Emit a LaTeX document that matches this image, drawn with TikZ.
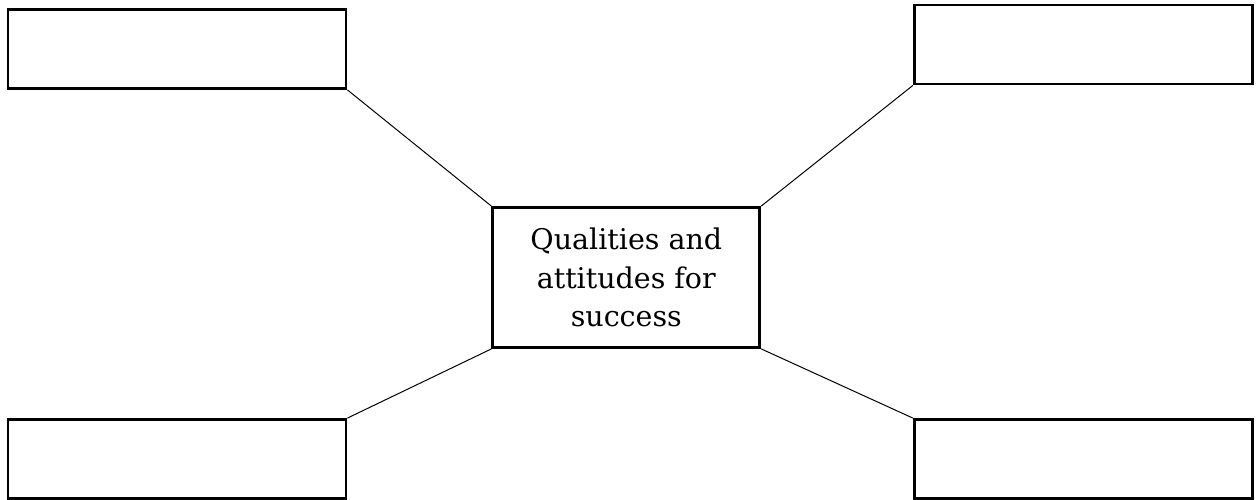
\documentclass[tikz,border=0pt]{standalone}
\usepackage{fontspec}
\setmainfont{DejaVu Serif}
\begin{document}
\begin{tikzpicture}[x=1pt,y=-1pt,
  emptybox/.style={draw=black, line width=2.8pt, rectangle, inner sep=0pt, minimum width=338pt, minimum height=79pt},
  centerbox/.style={draw=black, line width=2.8pt, rectangle, inner sep=0pt, minimum width=267pt, minimum height=140pt, align=center, font=\fontsize{28.5}{38.5}\selectfont},
  link/.style={draw=black, line width=1pt}]
\useasboundingbox (0,0) rectangle (1259,500);
\node[emptybox] (tl) at (177,49) {};
\node[emptybox] (tr) at (1083.3,44.5) {};
\node[emptybox] (bl) at (177,459) {};
\node[emptybox] (br) at (1083.3,459) {};
\node[centerbox] (c) at (626.3,277.5) {Qualities and\\attitudes for\\success};
\draw[link] (tl.south east) -- (c.north west);
\draw[link] (tr.south west) -- (c.north east);
\draw[link] (bl.north east) -- (c.south west);
\draw[link] (br.north west) -- (c.south east);
\end{tikzpicture}
\end{document}
